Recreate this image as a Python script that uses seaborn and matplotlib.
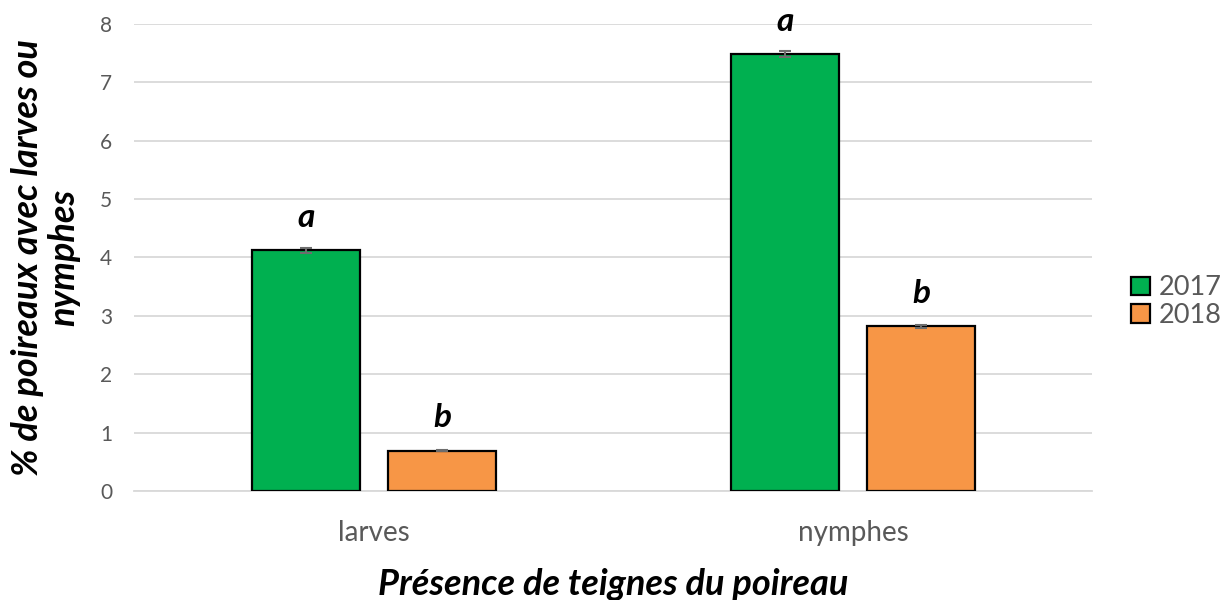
import matplotlib
matplotlib.use("Agg")
import matplotlib.pyplot as plt
import seaborn as sns
import pandas as pd

# Data
stages = ["larves", "nymphes"]
years = ["2017", "2018"]
pct_2017 = [4.12, 7.48]
pct_2018 = [0.69, 2.82]
err_2017 = [0.04, 0.05]
err_2018 = [0.01, 0.02]
letters_2017 = ["a", "a"]
letters_2018 = ["b", "b"]

colors = {"2017": "#00B050", "2018": "#F79646"}

df = pd.DataFrame({
    "stade": stages * 2,
    "annee": [years[0]] * len(stages) + [years[1]] * len(stages),
    "pct": pct_2017 + pct_2018,
})

sns.set_theme(style="white")
plt.rcParams["font.family"] = ["Lato", "DejaVu Sans"]

fig = plt.figure(figsize=(12.28, 6.0), dpi=100)
ax = fig.add_axes([0.1095, 0.1817, 0.7801, 0.7783])

sns.barplot(data=df, x="stade", y="pct", hue="annee", order=stages,
            hue_order=years, palette=colors, errorbar=None, width=0.568,
            gap=0.2, edgecolor="black", linewidth=1.6, saturation=1,
            zorder=3, ax=ax)

# Error bars and significance letters placed at each bar's centre
errs = {"2017": err_2017, "2018": err_2018}
vals = {"2017": pct_2017, "2018": pct_2018}
lets = {"2017": letters_2017, "2018": letters_2018}
for cont, yr in zip(ax.containers, years):
    for i, bar in enumerate(cont):
        xc = bar.get_x() + bar.get_width() / 2
        ax.errorbar(xc, vals[yr][i], yerr=errs[yr][i], color="#6d6d6d",
                    capsize=4, capthick=1.5, elinewidth=1.5, zorder=4)
        ax.annotate(lets[yr][i], (xc, vals[yr][i]), xytext=(0, 24),
                    textcoords="offset points", ha="center", va="center",
                    fontsize=24, fontweight="bold", fontstyle="italic",
                    color="black")

ax.set_xlim(-0.5, 1.5)
ax.set_ylim(0, 8)
ax.set_yticks(range(0, 9))
ax.yaxis.grid(True, color="#d9d9d9", linewidth=1.3, zorder=0)
ax.xaxis.grid(False)
for s in ["top", "right", "left"]:
    ax.spines[s].set_visible(False)
ax.spines["bottom"].set_color("#d9d9d9")
ax.spines["bottom"].set_linewidth(1.3)
ax.tick_params(axis="both", length=0, colors="#595959")
ax.tick_params(axis="y", labelsize=15, pad=16)
ax.tick_params(axis="x", labelsize=20, pad=21)

ax.set_xlabel("Présence de teignes du poireau", fontsize=26,
              fontweight="bold", fontstyle="italic", color="black", labelpad=16)
ax.set_ylabel("% de poireaux avec larves ou\nnymphes", fontsize=26,
              fontweight="bold", fontstyle="italic", color="black",
              labelpad=14, linespacing=1.12)

leg = ax.legend(title=None, loc="center left", bbox_to_anchor=(1.04, 0.405),
                frameon=False, fontsize=19.5, handlelength=0.7, handleheight=0.7,
                handletextpad=0.35, labelspacing=0.1, borderpad=0, borderaxespad=0)
for t in leg.get_texts():
    t.set_color("#595959")

fig.savefig("out.png", dpi=100)
